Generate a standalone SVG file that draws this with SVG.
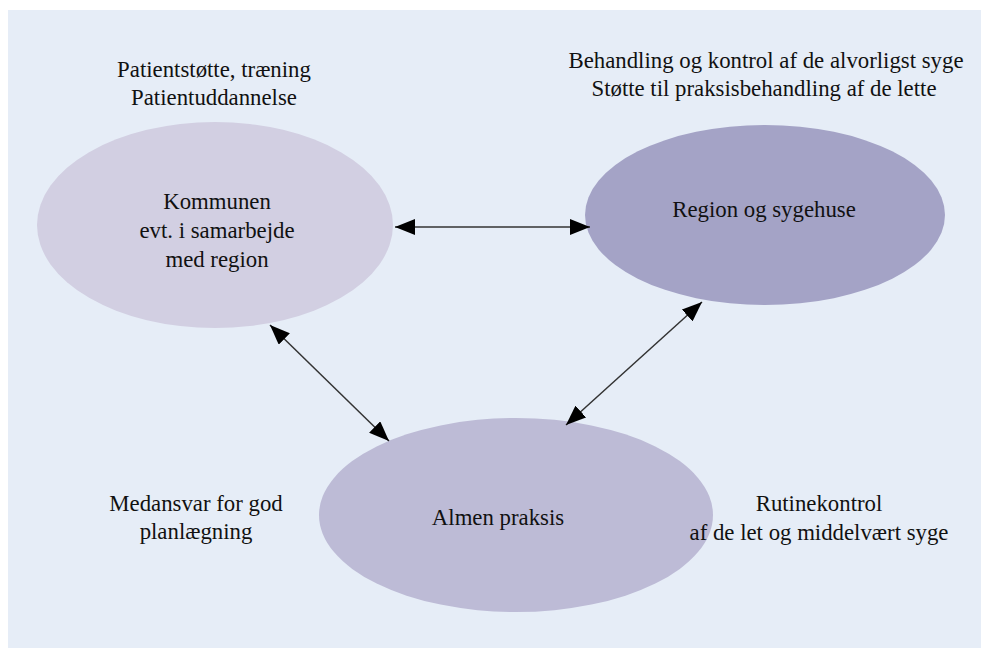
<svg xmlns="http://www.w3.org/2000/svg" width="981" height="648" viewBox="0 0 981 648">
<style>
.t{font-family:'Liberation Serif','DejaVu Serif',serif;font-size:22.8px;fill:#111;text-anchor:middle}
.ln{stroke:#333;stroke-width:1.5;fill:none}
</style>
<defs>
<marker id="ah" viewBox="0 0 20 16" refX="20" refY="8" markerWidth="20" markerHeight="16" markerUnits="userSpaceOnUse" orient="auto-start-reverse">
<path d="M0,0 L20,8 L0,16 Z" fill="#000"/>
</marker>
</defs>
<rect x="8" y="10" width="973" height="638" fill="#e6edf7"/>
<g id="kommunen">
<ellipse cx="215" cy="225" rx="178" ry="103" fill="#d2cfe2"/>
<text class="t" x="217" y="209">Kommunen</text>
<text class="t" x="217" y="238">evt. i samarbejde</text>
<text class="t" x="217" y="267">med region</text>
</g>
<g id="region">
<ellipse cx="765" cy="215" rx="180" ry="90" fill="#a4a3c6"/>
<text class="t" x="764" y="217">Region og sygehuse</text>
</g>
<g id="almen">
<ellipse cx="516" cy="515" rx="197" ry="97" fill="#bdbbd6"/>
<text class="t" x="498" y="525">Almen praksis</text>
</g>
<g id="labels">
<text class="t" x="214" y="77">Patientstøtte, træning</text>
<text class="t" x="214" y="105">Patientuddannelse</text>
<text class="t" x="766" y="68">Behandling og kontrol af de alvorligst syge</text>
<text class="t" x="764" y="96">Støtte til praksisbehandling af de lette</text>
<text class="t" x="196" y="511">Medansvar for god</text>
<text class="t" x="196" y="539">planlægning</text>
<text class="t" x="819" y="511">Rutinekontrol</text>
<text class="t" x="819" y="540">af de let og middelvært syge</text>
</g>
<g id="connectors">
<line class="ln" x1="395" y1="227" x2="590" y2="227" marker-start="url(#ah)" marker-end="url(#ah)"/>
<line class="ln" x1="270" y1="325" x2="389" y2="441" marker-start="url(#ah)" marker-end="url(#ah)"/>
<line class="ln" x1="702" y1="302" x2="566" y2="425" marker-start="url(#ah)" marker-end="url(#ah)"/>
</g>
</svg>
